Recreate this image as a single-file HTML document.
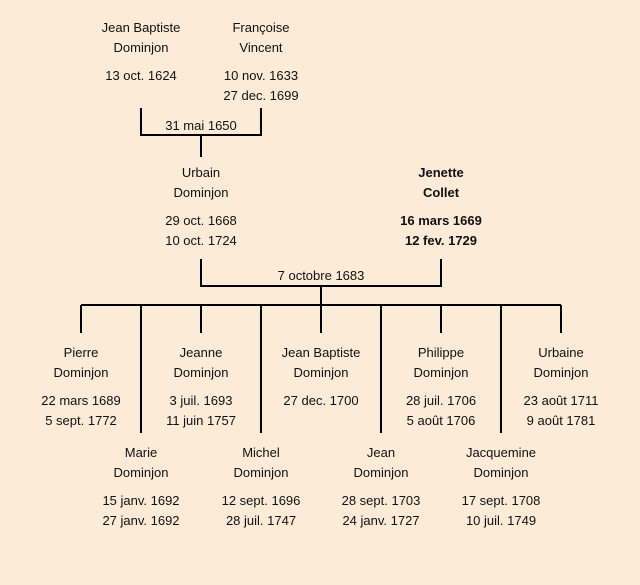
<!DOCTYPE html>
<html><head><meta charset="utf-8"><style>
body{margin:0;width:640px;height:585px;background:#fcebd7;overflow:hidden;position:relative;font-family:"Liberation Sans","DejaVu Sans",sans-serif;font-size:13px;color:#111}
.t{position:absolute;width:140px;margin-left:-70px;text-align:center;line-height:20px;white-space:nowrap;margin-top:1px}
.b{font-weight:bold}
svg{position:absolute;left:0;top:0}
</style></head><body>
<svg width="640" height="585"><g stroke="#000" stroke-width="2" fill="none">
<path d="M141 108V135H261V108M201 135V157"/>
<path d="M201 259V286H441V259M321 286V305"/>
<path d="M81 305H561"/>
<path d="M81 305V333M201 305V333M321 305V333M441 305V333M561 305V333"/>
<path d="M141 305V433M261 305V433M381 305V433M501 305V433"/>
</g></svg>
<div class="t" style="left:141px;top:17px">Jean Baptiste<br>Dominjon</div>
<div class="t" style="left:141px;top:65px">13 oct. 1624</div>
<div class="t" style="left:261px;top:17px">Françoise<br>Vincent</div>
<div class="t" style="left:261px;top:65px">10 nov. 1633<br>27 dec. 1699</div>
<div class="t" style="left:201px;top:115px">31 mai 1650</div>
<div class="t" style="left:201px;top:162px">Urbain<br>Dominjon</div>
<div class="t" style="left:201px;top:210px">29 oct. 1668<br>10 oct. 1724</div>
<div class="t b" style="left:441px;top:162px">Jenette<br>Collet</div>
<div class="t b" style="left:441px;top:210px">16 mars 1669<br>12 fev. 1729</div>
<div class="t" style="left:321px;top:265px">7 octobre 1683</div>
<div class="t" style="left:81px;top:342px">Pierre<br>Dominjon</div>
<div class="t" style="left:81px;top:390px">22 mars 1689<br>5 sept. 1772</div>
<div class="t" style="left:201px;top:342px">Jeanne<br>Dominjon</div>
<div class="t" style="left:201px;top:390px">3 juil. 1693<br>11 juin 1757</div>
<div class="t" style="left:321px;top:342px">Jean Baptiste<br>Dominjon</div>
<div class="t" style="left:321px;top:390px">27 dec. 1700</div>
<div class="t" style="left:441px;top:342px">Philippe<br>Dominjon</div>
<div class="t" style="left:441px;top:390px">28 juil. 1706<br>5 août 1706</div>
<div class="t" style="left:561px;top:342px">Urbaine<br>Dominjon</div>
<div class="t" style="left:561px;top:390px">23 août 1711<br>9 août 1781</div>
<div class="t" style="left:141px;top:442px">Marie<br>Dominjon</div>
<div class="t" style="left:141px;top:490px">15 janv. 1692<br>27 janv. 1692</div>
<div class="t" style="left:261px;top:442px">Michel<br>Dominjon</div>
<div class="t" style="left:261px;top:490px">12 sept. 1696<br>28 juil. 1747</div>
<div class="t" style="left:381px;top:442px">Jean<br>Dominjon</div>
<div class="t" style="left:381px;top:490px">28 sept. 1703<br>24 janv. 1727</div>
<div class="t" style="left:501px;top:442px">Jacquemine<br>Dominjon</div>
<div class="t" style="left:501px;top:490px">17 sept. 1708<br>10 juil. 1749</div>
</body></html>
